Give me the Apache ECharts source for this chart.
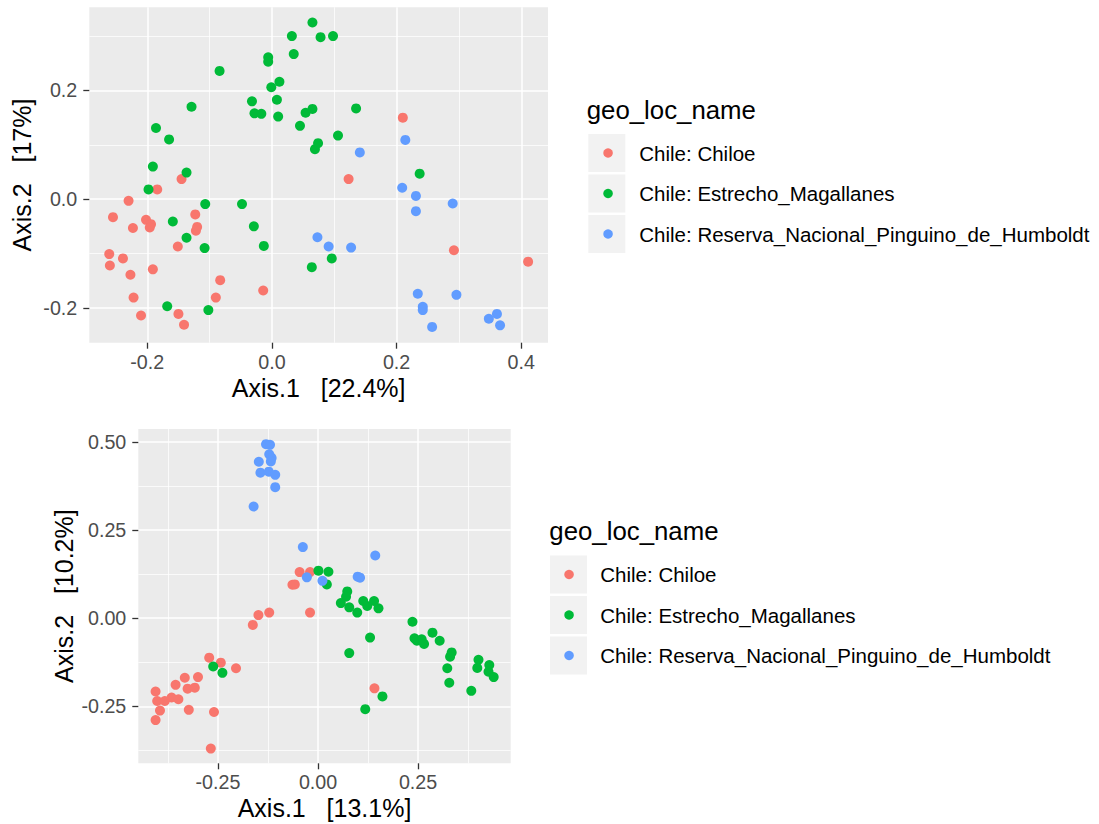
<!DOCTYPE html>
<html>
<head>
<meta charset="utf-8">
<script src="https://cdn.jsdelivr.net/npm/echarts@6/dist/echarts.min.js"></script>
<style>
html,body{margin:0;padding:0;background:#fff;}
#chart{width:1099px;height:824px;}
</style>
</head>
<body>
<div id="chart"></div>
<script>
const seriesNames = ['Chile: Chiloe', 'Chile: Estrecho_Magallanes', 'Chile: Reserva_Nacional_Pinguino_de_Humboldt'];
const seriesColors = ['#F8766D', '#00BA38', '#619CFF'];
const legendTitle = 'geo_loc_name';

// Top panel (Axis.1 22.4% / Axis.2 17%)
const topXTitle = 'Axis.1   [22.4%]';
const topYTitle = 'Axis.2   [17%]';
const topXTicks = [-0.2, 0.0, 0.2, 0.4];
const topYTicks = [-0.2, 0.0, 0.2];
const topChiloe = [
  [-0.145,0.037],[-0.184,0.018],[-0.230,-0.003],[-0.123,-0.028],[-0.255,-0.033],[-0.202,-0.038],
  [-0.194,-0.046],[-0.196,-0.052],[-0.223,-0.053],[-0.120,-0.051],[-0.122,-0.058],[-0.151,-0.087],
  [-0.261,-0.101],[-0.260,-0.122],[-0.239,-0.109],[-0.227,-0.139],[-0.191,-0.129],[-0.083,-0.149],
  [-0.014,-0.168],[-0.222,-0.181],[-0.090,-0.181],[-0.210,-0.214],[-0.150,-0.211],[-0.141,-0.231],
  [0.210,0.150],[0.123,0.037],[0.292,-0.094],[0.411,-0.115]
];
const topEstrecho = [
  [0.065,0.325],[0.032,0.300],[0.078,0.298],[0.098,0.300],[0.035,0.267],[-0.006,0.261],[-0.006,0.253],
  [-0.084,0.236],[0.012,0.216],[-0.001,0.206],[-0.129,0.170],[-0.032,0.180],[0.008,0.183],[-0.028,0.158],
  [-0.017,0.157],[0.010,0.152],[0.054,0.159],[0.065,0.166],[0.045,0.135],[0.069,0.092],[0.074,0.103],
  [0.135,0.167],[0.106,0.117],[-0.186,0.131],[-0.165,0.110],[-0.191,0.060],[-0.137,0.049],[0.237,0.047],
  [-0.198,0.018],[-0.107,-0.009],[-0.048,-0.009],[-0.159,-0.041],[-0.029,-0.050],[-0.137,-0.071],
  [-0.108,-0.090],[-0.013,-0.086],[0.064,-0.125],[0.096,-0.109],[-0.168,-0.197],[-0.102,-0.204]
];
const topHumboldt = [
  [0.214,0.109],[0.141,0.086],[0.209,0.021],[0.231,0.006],[0.290,-0.008],[0.231,-0.022],[0.073,-0.070],
  [0.091,-0.087],[0.127,-0.089],[0.234,-0.174],[0.296,-0.176],[0.242,-0.198],[0.242,-0.204],
  [0.257,-0.235],[0.361,-0.211],[0.348,-0.220],[0.366,-0.232]
];

// Bottom panel (Axis.1 13.1% / Axis.2 10.2%)
const botXTitle = 'Axis.1   [13.1%]';
const botYTitle = 'Axis.2   [10.2%]';
const botXTicks = [-0.25, 0.00, 0.25];
const botYTicks = [-0.25, 0.00, 0.25, 0.50];
const botChiloe = [
  [-0.046,0.131],[-0.020,0.131],[-0.064,0.095],[-0.058,0.096],[-0.149,0.009],[-0.122,0.016],[-0.163,-0.019],
  [-0.020,0.016],[-0.272,-0.112],[-0.243,-0.126],[-0.205,-0.142],[-0.333,-0.169],[-0.300,-0.167],
  [-0.356,-0.189],[-0.326,-0.200],[-0.308,-0.197],[-0.406,-0.208],[-0.402,-0.235],[-0.383,-0.235],
  [-0.366,-0.225],[-0.349,-0.230],[-0.395,-0.262],[-0.323,-0.260],[-0.260,-0.266],[-0.406,-0.289],
  [-0.268,-0.370],[0.141,-0.199]
];
const botEstrecho = [
  [0.001,0.135],[0.026,0.132],[0.022,0.096],[0.073,0.076],[0.070,0.061],[0.057,0.043],[0.078,0.031],
  [0.098,0.016],[0.113,0.049],[0.123,0.035],[0.140,0.049],[0.151,0.028],[0.130,-0.055],[0.078,-0.099],
  [0.161,-0.222],[0.118,-0.258],[0.236,-0.010],[0.241,-0.057],[0.247,-0.064],[0.259,-0.060],[0.265,-0.073],
  [0.286,-0.041],[0.304,-0.064],[0.334,-0.097],[0.330,-0.109],[0.323,-0.142],[0.328,-0.183],[0.383,-0.206],
  [0.401,-0.118],[0.398,-0.141],[0.428,-0.133],[0.426,-0.152],[0.439,-0.167],[-0.262,-0.137],[-0.239,-0.155]
];
const botHumboldt = [
  [-0.130,0.494],[-0.120,0.492],[-0.122,0.465],[-0.116,0.455],[-0.118,0.445],[-0.148,0.444],[-0.144,0.413],
  [-0.123,0.416],[-0.107,0.407],[-0.107,0.372],[-0.161,0.317],[-0.038,0.202],[-0.028,0.116],[0.011,0.106],
  [0.099,0.118],[0.105,0.115],[0.143,0.178]
];

const FONT = "'Liberation Sans', Arial, Helvetica, sans-serif";
const TICK_FS = 19.7;
const LEGEND_FS = 20.5;
const TITLE_FS = 25;
const LEGEND_TITLE_FS = 25.8;

function makeAxis(gridIndex, range, ticks, step, decimals, title, nameGap, labelMargin) {
  return {
    type: 'value',
    gridIndex: gridIndex,
    min: range[0],
    max: range[1],
    minInterval: step,
    maxInterval: step,
    name: title,
    nameLocation: 'middle',
    nameGap: nameGap,
    nameTextStyle: { fontFamily: FONT, fontSize: TITLE_FS, color: '#000', lineHeight: 28 },
    axisLine: { show: false, onZero: false },
    axisTick: { show: true, length: 6, lineStyle: { color: '#333333', width: 1.3 }, customValues: ticks },
    axisLabel: {
      show: true, margin: labelMargin, color: '#4D4D4D', fontFamily: FONT, fontSize: TICK_FS, lineHeight: 20,
      customValues: ticks,
      formatter: v => Number(v).toFixed(decimals)
    },
    splitLine: { show: true, lineStyle: { color: '#FFFFFF', width: 1.5 } },
    minorTick: { show: false, splitNumber: 2 },
    minorSplitLine: { show: true, lineStyle: { color: '#FFFFFF', width: 0.75 } }
  };
}

function scatter(name, data, color, gi) {
  return {
    type: 'scatter', name: name, data: data, xAxisIndex: gi, yAxisIndex: gi,
    symbol: 'circle', symbolSize: 10,
    itemStyle: { color: color, opacity: 1 },
    emphasis: { disabled: true }, silent: true
  };
}

function keyLegend(left, top) {
  return {
    show: true, orient: 'vertical', left: left, top: top, padding: 0,
    data: seriesNames, icon: 'rect', itemWidth: 37, itemHeight: 38, itemGap: 2.5,
    selectedMode: false, formatter: () => '',
    itemStyle: { color: '#F2F2F2', borderWidth: 0 },
    textStyle: { fontSize: 1 }
  };
}
function labelLegend(left, top) {
  return {
    show: true, orient: 'vertical', left: left, top: top, padding: 0,
    data: seriesNames, icon: 'circle', itemWidth: 9.5, itemHeight: 9.5, itemGap: 16.5,
    selectedMode: false,
    textStyle: { fontFamily: FONT, fontSize: LEGEND_FS, color: '#000', lineHeight: 24, padding: [0, 0, 0, 21.5] }
  };
}

const chart = echarts.init(document.getElementById('chart'), null, { renderer: 'svg', width: 1099, height: 824 });
chart.setOption({
  animation: false,
  backgroundColor: '#FFFFFF',
  title: [
    { text: legendTitle, left: 586.7, top: 95.7, padding: 0,
      textStyle: { fontFamily: FONT, fontSize: LEGEND_TITLE_FS, fontWeight: 'normal', color: '#000', lineHeight: 28 } },
    { text: legendTitle, left: 549.3, top: 516.7, padding: 0,
      textStyle: { fontFamily: FONT, fontSize: LEGEND_TITLE_FS, fontWeight: 'normal', color: '#000', lineHeight: 28 } }
  ],
  grid: [
    { left: 89.3, top: 7.3, width: 458.7, height: 335.4, show: true, backgroundColor: '#EBEBEB', borderWidth: 0, containLabel: false, outerBoundsMode: 'none' },
    { left: 138.3, top: 429, width: 372.4, height: 334.3, show: true, backgroundColor: '#EBEBEB', borderWidth: 0, containLabel: false, outerBoundsMode: 'none' }
  ],
  xAxis: [
    makeAxis(0, [-0.293, 0.4429], topXTicks, 0.2, 1, topXTitle, 31, 9),
    makeAxis(1, [-0.4492, 0.4815], botXTicks, 0.25, 2, botXTitle, 31, 9)
  ],
  yAxis: [
    makeAxis(0, [-0.264, 0.353], topYTicks, 0.2, 1, topYTitle, 53, 12),
    makeAxis(1, [-0.4117, 0.537], botYTicks, 0.25, 2, botYTitle, 59, 12)
  ],
  legend: [
    keyLegend(588.3, 134),
    labelLegend(603.3, 141),
    keyLegend(550, 555.5),
    labelLegend(564.3, 562.5)
  ],
  series: [
    scatter(seriesNames[0], topChiloe, seriesColors[0], 0),
    scatter(seriesNames[1], topEstrecho, seriesColors[1], 0),
    scatter(seriesNames[2], topHumboldt, seriesColors[2], 0),
    scatter(seriesNames[0], botChiloe, seriesColors[0], 1),
    scatter(seriesNames[1], botEstrecho, seriesColors[1], 1),
    scatter(seriesNames[2], botHumboldt, seriesColors[2], 1)
  ]
});
</script>
</body>
</html>
